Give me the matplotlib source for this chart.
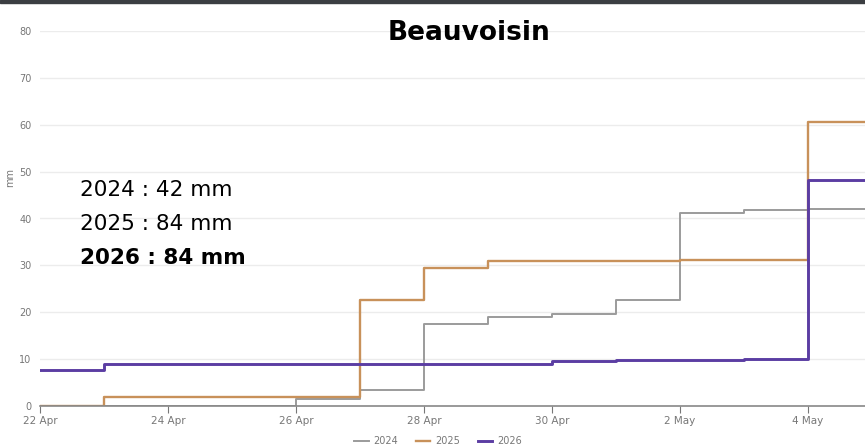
import numpy as np
import pandas as pd
import matplotlib
matplotlib.use('Agg')
import matplotlib.pyplot as plt
import matplotlib.dates as mdates
from matplotlib.patches import Rectangle

# daily cumulative rainfall (mm), 22 Apr -> 5 May
days = pd.date_range('2026-04-22', '2026-05-05', freq='D')
rain_2024 = [0, 0, 0, 0, 1.5, 3.5, 17.4, 19.0, 19.6, 22.6, 41.1, 41.8, 42.0, 42.0]
rain_2025 = [0, 2.0, 2.0, 2.0, 2.0, 22.6, 29.4, 31.0, 31.0, 31.0, 31.1, 31.2, 60.5, 60.5]
rain_2026 = [7.7, 8.9, 8.9, 8.9, 8.9, 8.9, 8.9, 8.9, 9.7, 9.8, 9.8, 10.0, 48.3, 48.3]
totals = ['2024 : 42 mm', '2025 : 84 mm', '2026 : 84 mm']
tick_days = pd.date_range('2026-04-22', '2026-05-04', freq='2D')

fig = plt.figure(figsize=(8.65, 4.48), dpi=100)
W, H = 865, 448
x0, x1 = 40, 40 + 13 * 64
ax = fig.add_axes([x0 / W, 1 - 406 / H, (x1 - x0) / W, (406 - 31) / H])

ax.step(days, rain_2024, where='post', color='#9b9b9b', lw=1.4, label='2024')
ax.step(days, rain_2025, where='post', color='#c8915a', lw=1.7, label='2025')
ax.step(days, rain_2026, where='post', color='#5b3da3', lw=2.1, label='2026')

ax.set_xlim(days[0], days[-1])
ax.set_ylim(0, 80)
ax.set_yticks(range(0, 81, 10))
ax.set_xticks(tick_days)
ax.xaxis.set_major_formatter(mdates.DateFormatter('%-d %b'))
ax.tick_params(axis='x', colors='#777777', labelsize=7.5, length=5, pad=2)
ax.tick_params(axis='y', colors='#777777', labelsize=7, length=0, pad=6)
ax.grid(axis='y', color='#ececec', lw=1)
ax.set_axisbelow(True)
for s in ['top', 'right', 'left']:
    ax.spines[s].set_visible(False)
ax.spines['bottom'].set_color('#888888')
ax.spines['bottom'].set_linewidth(1.2)
ax.set_ylabel('mm', color='#777777', fontsize=7)
ax.yaxis.set_label_coords(-0.03, 0.61)

fig.text(469 / W, 1 - 33 / H, 'Beauvoisin', ha='center', va='center',
         fontsize=19, fontweight='bold', family='DejaVu Sans')

for i, t in enumerate(totals):
    fig.text(80 / W, 1 - (190 + 34 * i) / H, t, ha='left', va='center',
             fontsize=15.5, family='DejaVu Sans',
             fontweight='bold' if i == 2 else 'normal')

leg = fig.legend(loc='center', bbox_to_anchor=(438 / W, 1 - 441 / H), ncol=3,
                 frameon=False, fontsize=7, handlelength=1.5, columnspacing=1.8,
                 handletextpad=0.5, labelcolor='#777777')

fig.add_artist(Rectangle((0, 1 - 3 / H), 1, 3 / H, transform=fig.transFigure,
                         color='#3b3e42'))

fig.savefig('out.png', dpi=100)
